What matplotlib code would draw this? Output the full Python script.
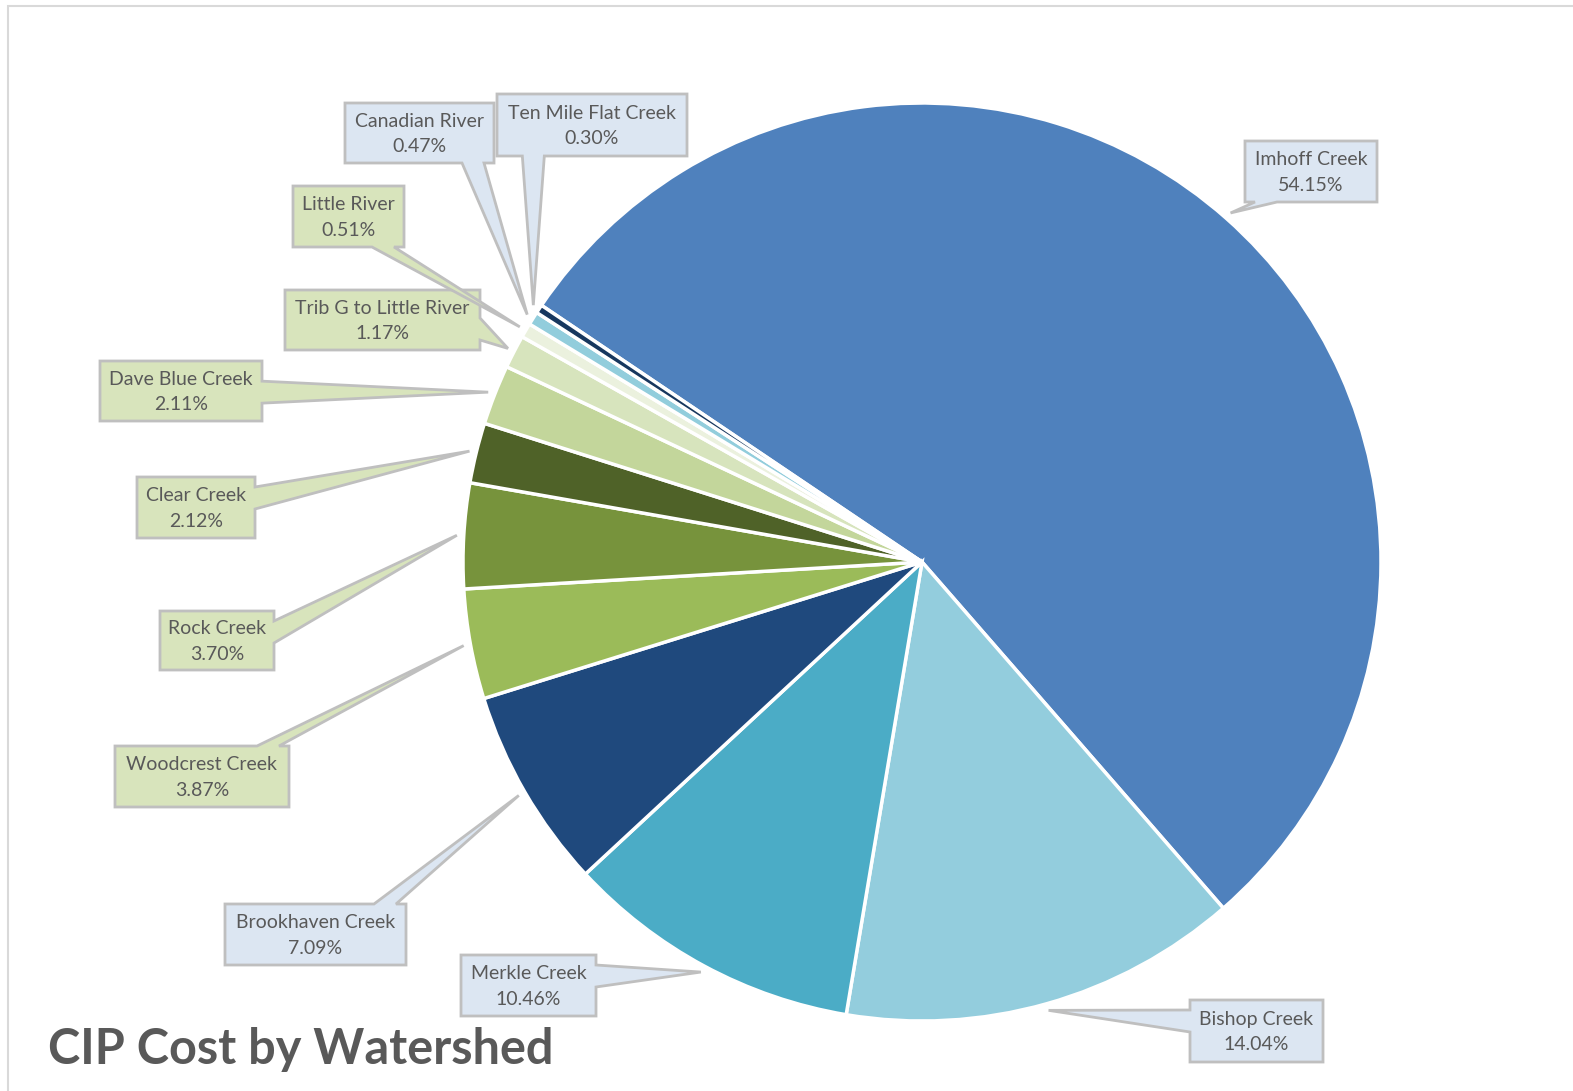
import matplotlib.pyplot as plt
from matplotlib.patches import Polygon, Rectangle
import numpy as np

# CIP cost share by watershed (percent of total)
watersheds = ['Imhoff Creek', 'Bishop Creek', 'Merkle Creek', 'Brookhaven Creek',
              'Woodcrest Creek', 'Rock Creek', 'Clear Creek', 'Dave Blue Creek',
              'Trib G to Little River', 'Little River', 'Canadian River',
              'Ten Mile Flat Creek']
cost_pct = [54.15, 14.04, 10.46, 7.09, 3.87, 3.70, 2.12, 2.11, 1.17, 0.51, 0.47, 0.30]

slice_colors = ['#4F81BD', '#93CDDD', '#4BACC6', '#1F497D', '#9BBB59', '#77933C',
                '#4F6228', '#C3D69B', '#D7E4BD', '#EBF1DE', '#92CDDC', '#17375E']

# callout boxes (left, top, right, bottom in pixels from top-left) and the side the pointer leaves from
box_pos = [(1245, 141, 1377, 202), (1190, 1000, 1323, 1062), (461, 955, 596, 1016),
           (225, 904, 406, 965), (115, 746, 289, 807), (160, 611, 274, 670),
           (137, 477, 255, 538), (100, 361, 262, 421), (285, 290, 480, 350),
           (293, 186, 404, 247), (345, 103, 494, 163), (497, 94, 687, 156)]
pointer_side = ['bottom', 'left', 'right', 'top', 'top', 'right', 'right', 'right',
                'right', 'bottom', 'bottom', 'bottom']
box_fill = ['#DCE6F2' if c in ('#4F81BD', '#93CDDD', '#4BACC6', '#1F497D', '#92CDDC', '#17375E')
            else '#D8E4BC' for c in slice_colors]

W, H = 1573, 1091
cx, cy, R = 922, 562, 459
start = 146

fig = plt.figure(figsize=(W / 100, H / 100), dpi=100)
ax = fig.add_axes([0, 0, 1, 1])
ax.set_xlim(0, W)
ax.set_ylim(0, H)
ax.set_aspect('equal')
ax.axis('off')

# light chart border
ax.add_patch(Rectangle((8, -10), W + 20, H - 6 + 10, fill=False, ec='#D9D9D9', lw=1.5))

wedges, _ = ax.pie(cost_pct, colors=slice_colors, startangle=start, counterclock=False,
                   center=(cx, H - cy), radius=R, frame=True,
                   wedgeprops=dict(edgecolor='white', linewidth=2.5))
ax.set_xlim(0, W)
ax.set_ylim(0, H)
ax.axis('off')


def callout(box, side, tip, fill):
    x0, y0, x1, y1 = box
    tx, ty = tip
    hw, margin = 11, 10
    if side in ('top', 'bottom'):
        c = min(max(tx, x0 + margin + hw), x1 - margin - hw)
    else:
        c = min(max(ty, y0 + margin + hw), y1 - margin - hw)
    b1, b2 = c - hw, c + hw
    if side == 'bottom':
        pts = [(x0, y0), (x1, y0), (x1, y1), (b2, y1), (tx, ty), (b1, y1), (x0, y1)]
    elif side == 'top':
        pts = [(x0, y0), (b1, y0), (tx, ty), (b2, y0), (x1, y0), (x1, y1), (x0, y1)]
    elif side == 'right':
        pts = [(x0, y0), (x1, y0), (x1, b1), (tx, ty), (x1, b2), (x1, y1), (x0, y1)]
    else:
        pts = [(x0, y0), (x1, y0), (x1, y1), (x0, y1), (x0, b2), (tx, ty), (x0, b1)]
    pts = [(px, H - py) for px, py in pts]
    ax.add_patch(Polygon(pts, closed=True, fc=fill, ec='#BFBFBF', lw=2, zorder=5))


for w, name, v, box, side, fill in zip(wedges, watersheds, cost_pct, box_pos,
                                       pointer_side, box_fill):
    mid = np.deg2rad((w.theta1 + w.theta2) / 2)
    tip = (cx + R * 1.015 * np.cos(mid), cy - R * 1.015 * np.sin(mid))
    callout(box, side, tip, fill)
    ax.text((box[0] + box[2]) / 2, H - (box[1] + box[3]) / 2 - 1, f'{name}\n{v:.2f}%',
            ha='center', va='center', fontsize=14, color='#595959',
            family='Lato', linespacing=1.6, zorder=6)

ax.text(48, H - 1050, 'CIP Cost by Watershed', ha='left', va='center',
        fontsize=35, fontweight='bold', color='#595959', family='Lato')

fig.savefig('out.png', dpi=100)
